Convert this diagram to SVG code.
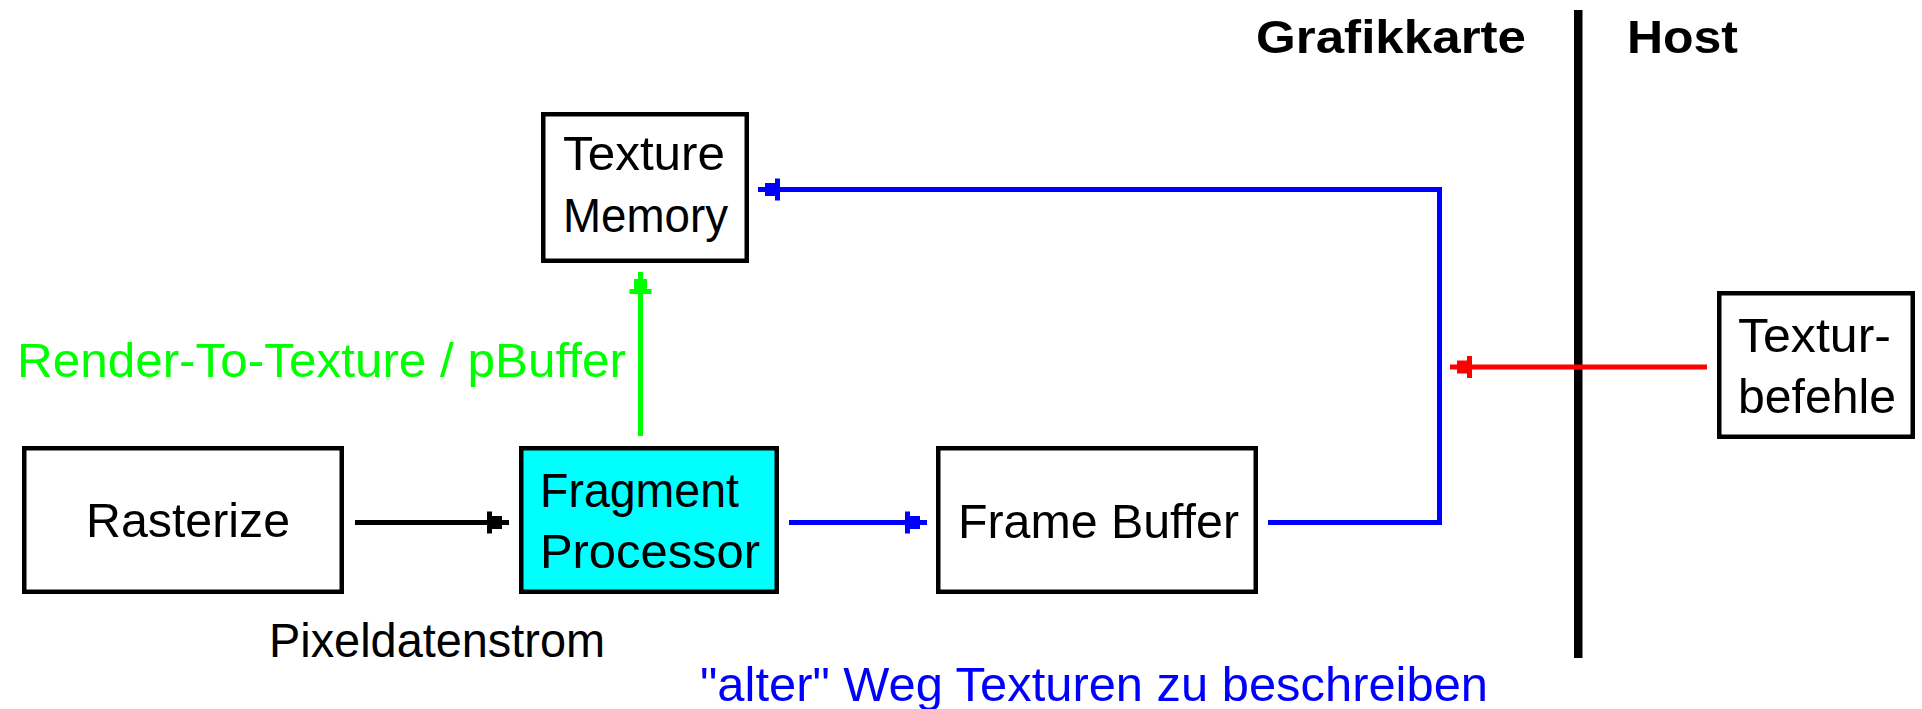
<svg xmlns="http://www.w3.org/2000/svg" width="1922" height="709" viewBox="0 0 1922 709">
<style>
.box{fill:#fff;stroke:#000;stroke-width:4.5}
.t{font-family:"Liberation Sans",Arial,sans-serif;font-size:48px;fill:#000}
.b{font-weight:bold;font-size:47px}
.ln{fill:none;stroke-width:5;stroke-linejoin:miter;stroke-linecap:butt}
</style>
<defs>
<marker id="ak" markerUnits="userSpaceOnUse" viewBox="-24 -12 25 24" refX="0" refY="0" markerWidth="25" markerHeight="24" orient="auto"><path d="M-22,-11H-17V-6.5H-7V-2.5H0V2.5H-7V6.5H-17V11H-22Z" fill="#000"/></marker>
<marker id="ab" markerUnits="userSpaceOnUse" viewBox="-24 -12 25 24" refX="0" refY="0" markerWidth="25" markerHeight="24" orient="auto"><path d="M-22,-11H-17V-6.5H-7V-2.5H0V2.5H-7V6.5H-17V11H-22Z" fill="#0000ff"/></marker>
<marker id="ar" markerUnits="userSpaceOnUse" viewBox="-24 -12 25 24" refX="0" refY="0" markerWidth="25" markerHeight="24" orient="auto"><path d="M-22,-11H-17V-6.5H-7V-2H0V2H-7V6.5H-17V11H-22Z" fill="#ff0000"/></marker>
<marker id="ag" markerUnits="userSpaceOnUse" viewBox="-24 -12 25 24" refX="0" refY="0" markerWidth="25" markerHeight="24" orient="auto"><path d="M-22,-11H-17V-6.5H-7V-2.5H0V2.5H-7V6.5H-17V11H-22Z" fill="#00ff00"/></marker>
</defs>
<rect width="1922" height="709" fill="#fff"/>

<g id="divider">
<rect x="1574" y="10" width="8.5" height="648" fill="#000"/>
<text class="t b" x="1256" y="53" textLength="270" lengthAdjust="spacingAndGlyphs">Grafikkarte</text>
<text class="t b" x="1627" y="53" textLength="111" lengthAdjust="spacingAndGlyphs">Host</text>
</g>

<g id="connectors">
<path class="ln" d="M355,522.5H509" stroke="#000" marker-end="url(#ak)"/>
<path class="ln" d="M789,522.5H927" stroke="#0000ff" marker-end="url(#ab)"/>
<path class="ln" d="M1268,522.5H1439.5V189.5H758" stroke="#0000ff" marker-end="url(#ab)"/>
<path class="ln" d="M1707,367H1450" stroke="#ff0000" stroke-width="4" marker-end="url(#ar)"/>
<path class="ln" d="M640.5,436V272" stroke="#00ff00" marker-end="url(#ag)"/>
</g>

<g id="texture-memory">
<rect class="box" x="543.25" y="114.25" width="203.5" height="146.5"/>
<text class="t" x="563" y="170" font-size="50" textLength="162" lengthAdjust="spacingAndGlyphs">Texture</text>
<text class="t" x="563" y="232" font-size="50" textLength="165" lengthAdjust="spacingAndGlyphs">Memory</text>
</g>

<g id="rasterize">
<rect class="box" x="24.25" y="448.25" width="317.5" height="143.5"/>
<text class="t" x="86" y="537" textLength="204" lengthAdjust="spacingAndGlyphs">Rasterize</text>
</g>

<g id="fragment-processor">
<rect class="box" x="521.25" y="448.25" width="255.5" height="143.5" fill="#00ffff" style="fill:#00ffff"/>
<text class="t" x="540" y="507" textLength="199" lengthAdjust="spacingAndGlyphs">Fragment</text>
<text class="t" x="540" y="568" textLength="220" lengthAdjust="spacingAndGlyphs">Processor</text>
</g>

<g id="frame-buffer">
<rect class="box" x="938.25" y="448.25" width="317.5" height="143.5"/>
<text class="t" x="958" y="538" textLength="281" lengthAdjust="spacingAndGlyphs">Frame Buffer</text>
</g>

<g id="texturbefehle">
<rect class="box" x="1719.25" y="293.25" width="193.5" height="143.5"/>
<text class="t" x="1738" y="352" textLength="153" lengthAdjust="spacingAndGlyphs">Textur-</text>
<text class="t" x="1738" y="413" textLength="158" lengthAdjust="spacingAndGlyphs">befehle</text>
</g>

<g id="labels">
<text class="t" x="17" y="377" fill="#00ff00" style="fill:#00ff00" textLength="609" lengthAdjust="spacingAndGlyphs">Render-To-Texture / pBuffer</text>
<text class="t" x="269" y="657" textLength="336" lengthAdjust="spacingAndGlyphs">Pixeldatenstrom</text>
<text class="t" x="700" y="701" font-size="46" style="fill:#0000ff" textLength="788" lengthAdjust="spacingAndGlyphs">"alter" Weg Texturen zu beschreiben</text>
</g>
</svg>
